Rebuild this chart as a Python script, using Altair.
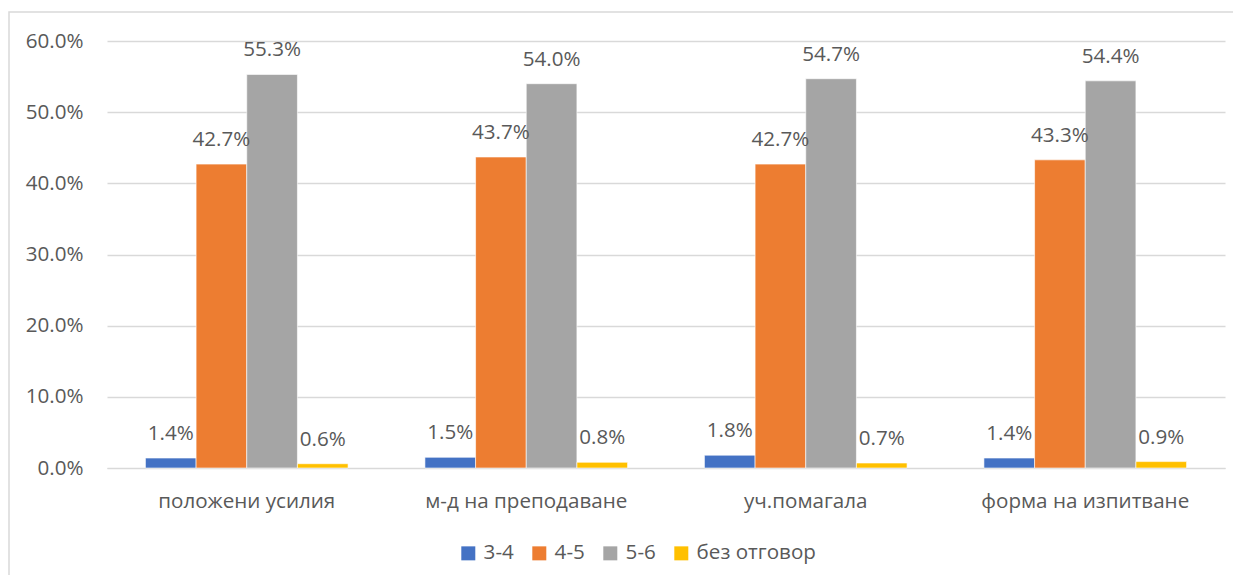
import altair as alt
import pandas as pd

categories = ["положени усилия", "м-д на преподаване", "уч.помагала", "форма на изпитване"]
series = ["3-4", "4-5", "5-6", "без отговор"]
values_34 = [1.4, 1.5, 1.8, 1.4]
values_45 = [42.7, 43.7, 42.7, 43.3]
values_56 = [55.3, 54.0, 54.7, 54.4]
values_none = [0.6, 0.8, 0.7, 0.9]
colors = ["#4472C4", "#ED7D31", "#A5A5A5", "#FFC000"]

rows = []
for s, vals in zip(series, [values_34, values_45, values_56, values_none]):
    for c, v in zip(categories, vals):
        rows.append({"category": c, "series": s, "value": v / 100.0})
df = pd.DataFrame(rows)

FONT = "Open Sans"
TXT = "#595959"
FS = 20.6

x_enc = alt.X("category:N", sort=categories, title=None,
              scale=alt.Scale(paddingInner=0.275, paddingOuter=0.1375),
              axis=alt.Axis(labelAngle=0, ticks=False, domain=True, domainColor="#d9d9d9",
                            labelPadding=23, labelLimit=0, labelFont=FONT, labelFontSize=FS,
                            labelColor=TXT))
y_enc = alt.Y("value:Q", title=None,
              scale=alt.Scale(domain=[0, 0.6], nice=False),
              axis=alt.Axis(format=".1%", values=[0, 0.1, 0.2, 0.3, 0.4, 0.5, 0.6],
                            ticks=False, domain=False, gridColor="#d9d9d9", gridWidth=1.5,
                            labelPadding=24, labelFont=FONT, labelFontSize=FS, labelColor=TXT))
xo = alt.XOffset("series:N", sort=series)

border = alt.Chart(pd.DataFrame({"a": [0]})).mark_rect(
    fill=None, stroke="#d9d9d9", strokeWidth=1.5
).encode(x=alt.value(-98), x2=alt.value(1500), y=alt.value(-29), y2=alt.value(900))

bars = alt.Chart(df).mark_bar(stroke="white", strokeWidth=0.6).encode(
    x=x_enc, y=y_enc, xOffset=xo,
    color=alt.Color("series:N", sort=series,
                    scale=alt.Scale(domain=series, range=colors),
                    legend=alt.Legend(title=None, orient="none", direction="horizontal",
                                      legendX=351, legendY=502, symbolType="square",
                                      symbolSize=196, symbolStrokeWidth=0,
                                      labelFont=FONT, labelFontSize=FS, labelColor=TXT,
                                      columnPadding=15, labelOffset=5)),
)

labels = alt.Chart(df).mark_text(
    dy=-18, baseline="alphabetic", align="center", font=FONT, fontSize=FS, color=TXT
).encode(
    x=alt.X("category:N", sort=categories), y="value:Q", xOffset=xo,
    text=alt.Text("value:Q", format=".1%"),
)

chart = alt.layer(border, bars, labels).properties(
    width=1118, height=427,
    background="white",
    autosize=alt.AutoSizeParams(type="none"),
    padding={"left": 99, "top": 33, "right": 8, "bottom": 107},
).configure_view(strokeWidth=0, stroke="transparent")

chart.save("out.html", embed_options={"renderer": "svg", "actions": False})
